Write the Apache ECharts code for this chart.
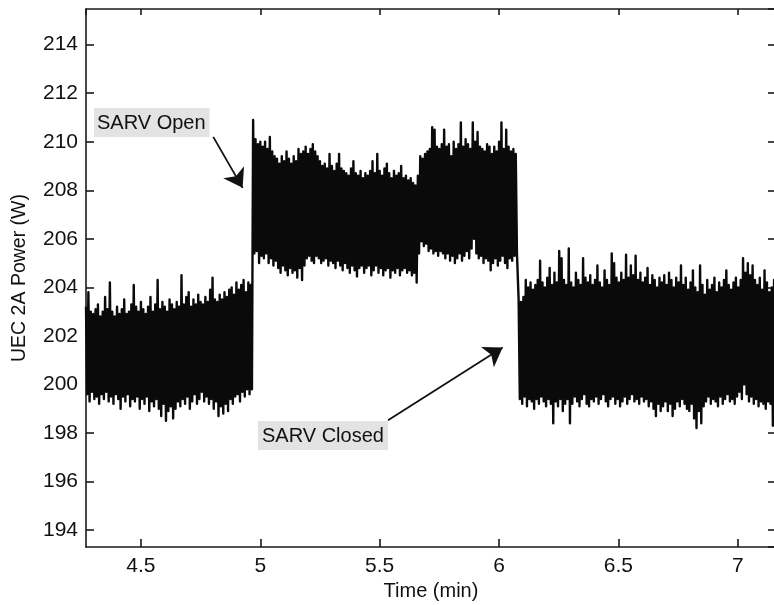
<!DOCTYPE html>
<html>
<head>
<meta charset="utf-8">
<script src="https://cdn.jsdelivr.net/npm/echarts@6/dist/echarts.min.js"></script>
<style>
html,body{margin:0;padding:0;background:#fff;overflow:hidden;}
#chart{width:774px;height:605px;}
</style>
</head>
<body>
<div id="chart"></div>
<script>
// ---- Data ----
const sampleStep = 0.01; // min between sample pairs (peak, trough)
const xRange = [4.27, 7.16];
const yRange = [193.3, 215.47];

// Segment 1: SARV closed (before opening)
const seg1Start = 4.27;
const seg1High = [
  203.2,203.8,203.0,202.9,203.1,203.3,202.8,203.0,203.6,203.1,
  204.2,203.0,202.8,203.2,202.9,203.1,203.5,202.9,203.0,203.3,
  204.1,203.2,203.0,203.4,203.1,202.9,203.2,203.6,203.0,203.3,
  204.3,203.1,203.4,203.2,203.0,203.5,203.3,203.1,203.4,203.2,
  204.5,203.3,203.6,203.8,203.2,203.5,203.3,203.7,203.4,203.3,
  203.6,203.4,203.9,204.4,203.5,203.4,203.7,203.5,203.8,203.6,
  203.9,204.0,203.7,204.2,203.9,204.1,204.3,203.8,204.2,204.1
];
const seg1Low = [
  199.6,199.3,199.7,199.4,199.5,199.2,199.6,199.4,199.7,199.3,
  199.5,199.2,199.6,199.4,199.0,199.5,199.3,199.6,199.1,199.4,
  199.3,199.5,199.0,199.4,199.2,199.5,198.9,199.3,199.1,199.4,
  199.0,198.7,199.2,198.5,198.9,199.1,198.6,199.0,199.3,199.1,
  199.4,199.2,199.5,199.0,199.3,199.6,199.2,199.4,199.7,199.3,
  199.5,199.2,199.4,199.0,199.3,198.7,199.1,198.8,199.2,198.9,
  199.4,199.2,199.5,199.6,199.3,199.7,199.5,199.8,199.6,199.8
];

// Segment 2: SARV open
const seg2Start = 4.97;
const seg2High = [
  210.9,210.1,209.9,210.0,209.8,210.0,209.7,210.2,209.6,209.4,
  209.3,209.1,209.4,209.2,209.6,209.3,209.1,209.4,209.2,209.7,
  209.5,209.6,209.8,209.5,209.7,209.9,209.6,209.4,209.2,209.0,
  209.1,208.9,209.5,209.0,208.8,209.1,209.5,208.9,208.8,208.7,
  208.6,208.9,209.2,208.7,208.6,208.8,208.5,208.7,208.6,208.8,
  209.2,208.7,209.5,208.8,208.6,208.9,209.1,208.7,208.5,208.8,
  208.6,208.7,209.0,208.5,208.6,208.4,208.5,208.3,208.2,208.6,
  209.4,209.3,209.5,209.6,209.7,210.6,210.5,209.8,209.7,209.9,
  210.5,209.8,209.9,209.4,210.0,209.7,209.9,210.8,209.8,210.1,
  209.9,209.7,210.8,210.0,210.4,209.8,209.7,209.6,209.9,209.8,
  209.5,209.8,209.6,210.0,210.8,209.7,210.5,209.8,209.6,209.7,209.5
];
const seg2Low = [
  205.4,205.5,205.0,205.3,205.2,205.4,205.0,205.2,204.9,205.1,
  204.8,204.6,204.9,204.7,204.5,204.8,204.6,204.7,204.4,204.8,
  204.3,204.9,205.2,205.3,205.1,205.0,205.3,205.2,205.0,205.1,
  205.2,204.9,205.1,205.0,204.8,205.1,204.9,204.7,205.0,204.8,
  204.6,204.9,204.7,204.45,204.8,204.9,204.6,204.8,204.9,204.5,
  204.7,204.9,204.6,204.8,204.5,204.7,204.8,204.4,204.7,204.6,
  204.8,204.5,204.7,204.8,204.6,204.7,204.5,204.6,204.2,205.4,
  205.9,205.7,205.8,205.5,205.6,205.4,205.5,205.3,205.5,205.4,
  205.2,205.4,205.1,205.3,205.0,205.2,205.4,205.1,205.3,205.5,
  205.2,205.6,206.0,205.4,205.2,205.3,205.0,205.2,205.1,204.7,
  205.0,205.2,204.9,205.1,205.3,205.0,204.8,205.2,205.1,205.3,205.4
];

// Segment 3: SARV closed again
const seg3Start = 6.082;
const seg3High = [
  203.5,203.4,203.6,204.3,204.0,204.2,203.9,204.1,204.3,205.1,
  204.2,204.0,204.4,204.8,204.1,204.6,204.2,205.5,205.2,204.3,
  204.1,205.6,204.2,204.0,204.6,204.3,204.1,205.2,204.4,204.2,
  204.5,204.1,204.3,204.9,204.2,204.0,204.7,204.3,204.1,205.4,
  205.0,204.4,204.2,204.6,204.3,205.35,204.4,204.9,204.5,205.3,
  204.3,204.6,204.2,204.4,204.8,204.1,204.5,204.3,204.0,204.4,
  204.2,204.5,204.1,204.6,204.3,204.0,204.4,204.2,204.9,204.1,
  204.4,203.9,204.2,204.7,204.0,203.8,204.9,204.1,203.7,204.3,
  203.9,204.1,204.4,203.8,204.2,204.0,204.3,204.7,204.1,203.9,
  204.2,204.4,204.0,204.3,205.2,204.6,205.0,204.5,204.9,204.3,
  204.1,204.4,203.9,204.7,204.2,203.8,204.0,204.3
];
const seg3Low = [
  199.4,199.2,199.5,199.1,199.4,199.3,199.0,199.4,199.2,199.5,
  199.3,199.1,199.4,199.2,198.4,199.3,199.1,199.4,198.9,199.2,
  199.4,198.4,199.2,199.5,199.3,199.1,199.4,199.6,199.2,199.1,
  199.4,199.3,199.5,199.2,199.4,199.6,199.3,199.1,199.4,199.5,
  199.2,199.4,199.1,199.3,199.5,199.2,199.4,199.6,199.3,199.4,
  199.2,199.5,199.3,199.4,199.1,199.3,199.0,198.7,199.2,198.9,
  199.1,199.3,198.9,199.2,198.7,199.0,199.3,199.1,199.4,199.2,
  199.0,198.9,199.2,198.6,198.2,198.9,198.4,199.1,199.3,199.5,
  199.2,199.4,199.3,199.1,199.5,199.2,199.4,199.6,199.3,199.4,
  199.2,199.5,199.7,199.4,200.0,199.6,199.3,199.5,199.2,199.4,
  199.1,199.3,199.2,199.0,199.3,199.2,198.3,198.1
];

// Annotations
const openLabel = 'SARV Open';
const closedLabel = 'SARV Closed';
const openArrow = [[4.803, 210.2], [4.926, 208.1]];
const closedArrow = [[5.535, 198.52], [6.015, 201.52]];

const xTitle = 'Time (min)';
const yTitle = 'UEC 2A Power (W)';

// ---- Build the signal as alternating peak / trough samples ----
function buildSeg(start, hi, lo, out) {
  for (let i = 0; i < hi.length; i++) {
    const t = start + i * sampleStep;
    out.push([+t.toFixed(4), hi[i]]);
    out.push([+(t + sampleStep / 2).toFixed(4), lo[i]]);
  }
}
const signal = [];
buildSeg(seg1Start, seg1High, seg1Low, signal);
buildSeg(seg2Start, seg2High, seg2Low, signal);
buildSeg(seg3Start, seg3High, seg3Low, signal);

const FONT = "'Liberation Sans', Arial, Helvetica, sans-serif";
const AX = '#1a1a1a';

const chart = echarts.init(document.getElementById('chart'), null, {renderer: 'canvas'});

const baseX = {
  type: 'value', min: xRange[0], max: xRange[1], splitNumber: 6,
  splitLine: {show: false},
  axisLine: {show: true, onZero: false, lineStyle: {color: AX, width: 1.6}},
  axisTick: {show: true, inside: true, length: 8, lineStyle: {color: AX, width: 1.6}}
};
const baseY = {
  type: 'value', min: yRange[0], max: yRange[1], splitNumber: 11,
  splitLine: {show: false},
  axisLine: {show: true, onZero: false, lineStyle: {color: AX, width: 1.6}},
  axisTick: {show: true, inside: true, length: 8, lineStyle: {color: AX, width: 1.6}}
};

chart.setOption({
  animation: false,
  backgroundColor: '#ffffff',
  grid: {left: 86, right: -2, top: 9, bottom: 58, containLabel: false, outerBoundsMode: 'none'},
  xAxis: [
    Object.assign({}, baseX, {
      position: 'bottom',
      name: xTitle, nameLocation: 'middle', nameGap: 33,
      nameTextStyle: {fontFamily: FONT, fontSize: 20, color: '#111'},
      axisLabel: {show: true, margin: 9, fontFamily: FONT, fontSize: 21, color: '#111',
        showMinLabel: false, showMaxLabel: false}
    }),
    Object.assign({}, baseX, {
      position: 'top',
      axisLabel: {show: false},
      axisTick: {show: true, inside: true, length: 6, lineStyle: {color: AX, width: 1.6}}
    })
  ],
  yAxis: [
    Object.assign({}, baseY, {
      position: 'left',
      name: yTitle, nameLocation: 'middle', nameGap: 56,
      nameTextStyle: {fontFamily: FONT, fontSize: 19.5, color: '#111'},
      axisLabel: {show: true, margin: 8, fontFamily: FONT, fontSize: 21, color: '#111',
        showMinLabel: false, showMaxLabel: false}
    }),
    Object.assign({}, baseY, {
      position: 'right',
      axisLabel: {show: false}
    })
  ],
  series: [
    {
      type: 'line',
      name: 'power',
      xAxisIndex: 0, yAxisIndex: 0,
      data: signal,
      showSymbol: false,
      symbol: 'none',
      sampling: null,
      clip: true,
      silent: true,
      lineStyle: {color: '#0a0a0a', width: 2.4, join: 'round'},
      z: 2
    },
    {
      type: 'lines',
      coordinateSystem: 'cartesian2d',
      xAxisIndex: 0, yAxisIndex: 0,
      symbol: ['none', 'arrow'],
      symbolSize: [10, 18],
      silent: true,
      lineStyle: {color: '#111', width: 1.8, opacity: 1},
      data: [
        {coords: openArrow},
        {coords: closedArrow}
      ],
      z: 5
    }
  ],
  graphic: [
    {
      type: 'text', x: 94, y: 108, z: 10,
      style: {
        text: openLabel, font: '20px ' + FONT, fill: '#111',
        backgroundColor: '#e3e3e3', padding: [5, 4, 4, 3]
      }
    },
    {
      type: 'text', x: 258, y: 421, z: 10,
      style: {
        text: closedLabel, font: '20px ' + FONT, fill: '#111',
        backgroundColor: '#e3e3e3', padding: [5, 4, 4, 4]
      }
    }
  ]
});
</script>
</body>
</html>
